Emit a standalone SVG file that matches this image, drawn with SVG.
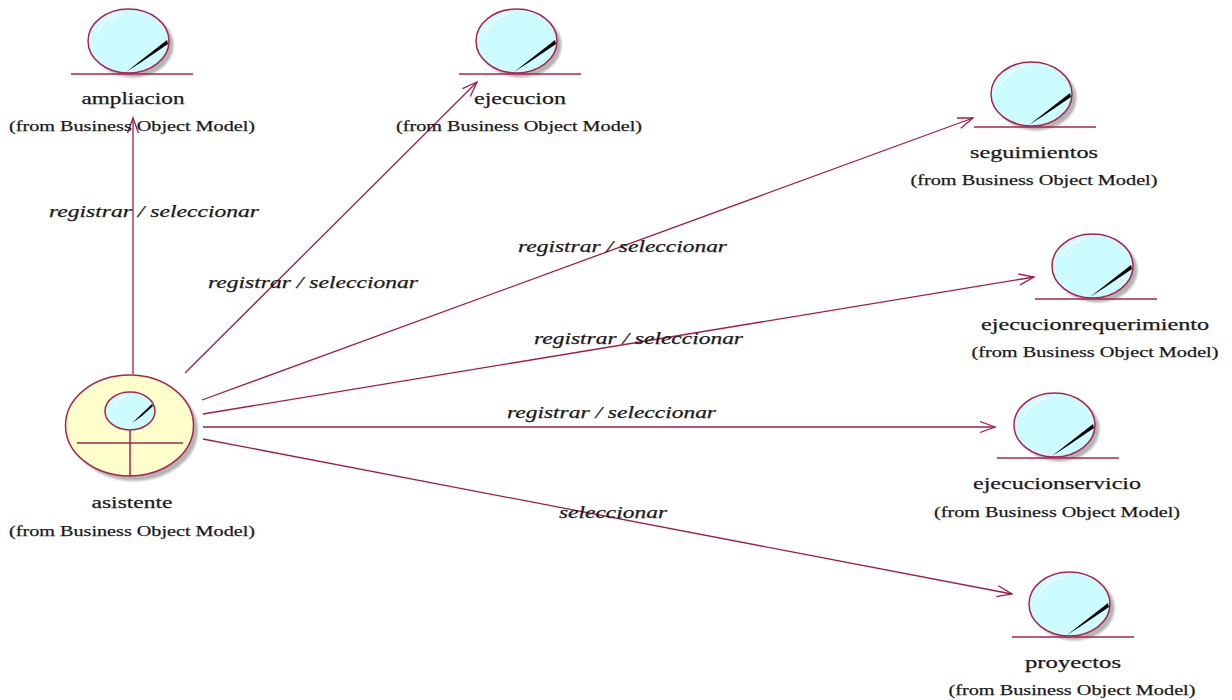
<svg xmlns="http://www.w3.org/2000/svg" width="1232" height="700" viewBox="0 0 1232 700">
<style>
text{font-family:"Liberation Serif","DejaVu Serif",serif;fill:#1a1a1a;stroke:#1a1a1a;stroke-width:.25;text-anchor:middle}
.n{font-size:17px}
.f{font-size:15.500px}
.l{font-size:17px;font-style:italic;text-anchor:start}
.c{fill:none;stroke:#a01c4c;stroke-width:1.300}
.o{stroke:#a8244f;stroke-width:1.500}
</style>
<defs>
<filter id="b" x="-20%" y="-20%" width="140%" height="140%"><feGaussianBlur stdDeviation="1.300"/></filter>
<marker id="a" markerWidth="18" markerHeight="14" refX="16" refY="7" orient="auto" markerUnits="userSpaceOnUse"><path d="M1 1.500L16 7L1 12.500" fill="none" stroke="#a01c4c" stroke-width="1.300"/></marker>
<g id="e">
<ellipse cx="133" cy="45" rx="40.500" ry="32.500" fill="#b4b4b4" filter="url(#b)"/>
<ellipse cx="128.500" cy="41" rx="40.500" ry="32" fill="#ccfcff" class="o"/>
<path d="M97 33Q105 16 122 14" fill="none" stroke="#fff" stroke-width="1.500"/>
<path d="M126 72L167 40L168 44L140 63Z" fill="#000"/>
<path d="M71 74H193" class="o"/>
</g>
</defs>
<g id="connectors">
<path class="c" d="M133 374V118" marker-end="url(#a)"/>
<path class="c" d="M185 373L477 82" marker-end="url(#a)"/>
<path class="c" d="M202 400L973 118" marker-end="url(#a)"/>
<path class="c" d="M203 414L1034 277" marker-end="url(#a)"/>
<path class="c" d="M203 427H995" marker-end="url(#a)"/>
<path class="c" d="M203 439L1012 594" marker-end="url(#a)"/>
</g>
<g id="labels">
<text class="l" x="49" y="217" textLength="210" lengthAdjust="spacingAndGlyphs">registrar / seleccionar</text>
<text class="l" x="208" y="288" textLength="210" lengthAdjust="spacingAndGlyphs">registrar / seleccionar</text>
<text class="l" x="518" y="252" textLength="209" lengthAdjust="spacingAndGlyphs">registrar / seleccionar</text>
<text class="l" x="534" y="344" textLength="209" lengthAdjust="spacingAndGlyphs">registrar / seleccionar</text>
<text class="l" x="507" y="418" textLength="209" lengthAdjust="spacingAndGlyphs">registrar / seleccionar</text>
<text class="l" x="559" y="518" textLength="108" lengthAdjust="spacingAndGlyphs">seleccionar</text>
</g>
<g id="ampliacion"><use href="#e"/>
<text class="n" x="133" y="104" textLength="103" lengthAdjust="spacingAndGlyphs">ampliacion</text>
<text class="f" x="132" y="131" textLength="246" lengthAdjust="spacingAndGlyphs">(from Business Object Model)</text></g>
<g id="ejecucion"><use href="#e" x="388"/>
<text class="n" x="520" y="104" textLength="92" lengthAdjust="spacingAndGlyphs">ejecucion</text>
<text class="f" x="519" y="131" textLength="246" lengthAdjust="spacingAndGlyphs">(from Business Object Model)</text></g>
<g id="seguimientos"><use href="#e" x="903" y="53"/>
<text class="n" x="1034" y="158" textLength="128" lengthAdjust="spacingAndGlyphs">seguimientos</text>
<text class="f" x="1034" y="185" textLength="247" lengthAdjust="spacingAndGlyphs">(from Business Object Model)</text></g>
<g id="ejecucionrequerimiento"><use href="#e" x="964" y="225"/>
<text class="n" x="1095" y="330" textLength="228" lengthAdjust="spacingAndGlyphs">ejecucionrequerimiento</text>
<text class="f" x="1095" y="357" textLength="247" lengthAdjust="spacingAndGlyphs">(from Business Object Model)</text></g>
<g id="ejecucionservicio"><use href="#e" x="926" y="384"/>
<text class="n" x="1057" y="489" textLength="168" lengthAdjust="spacingAndGlyphs">ejecucionservicio</text>
<text class="f" x="1057" y="517" textLength="246" lengthAdjust="spacingAndGlyphs">(from Business Object Model)</text></g>
<g id="proyectos"><use href="#e" x="941" y="563"/>
<text class="n" x="1073" y="668" textLength="96" lengthAdjust="spacingAndGlyphs">proyectos</text>
<text class="f" x="1072" y="695" textLength="247" lengthAdjust="spacingAndGlyphs">(from Business Object Model)</text></g>
<g id="asistente">
<ellipse cx="134" cy="430" rx="64" ry="51" fill="#b4b4b4" filter="url(#b)"/>
<ellipse cx="129.500" cy="425.500" rx="64" ry="50.500" fill="#ffffcc" class="o"/>
<ellipse cx="130" cy="411" rx="25" ry="19" fill="#ccfcff" class="o"/>
<path d="M114 408Q116 398 126 396" fill="none" stroke="#fff" stroke-width="1.200"/>
<path d="M132 423L152 404L153 406L142 416Z" fill="#000"/>
<path d="M77 443H183M130 430V476" class="o" fill="none"/>
<text class="n" x="132" y="508" textLength="81" lengthAdjust="spacingAndGlyphs">asistente</text>
<text class="f" x="132" y="536" textLength="246" lengthAdjust="spacingAndGlyphs">(from Business Object Model)</text>
</g>
</svg>
